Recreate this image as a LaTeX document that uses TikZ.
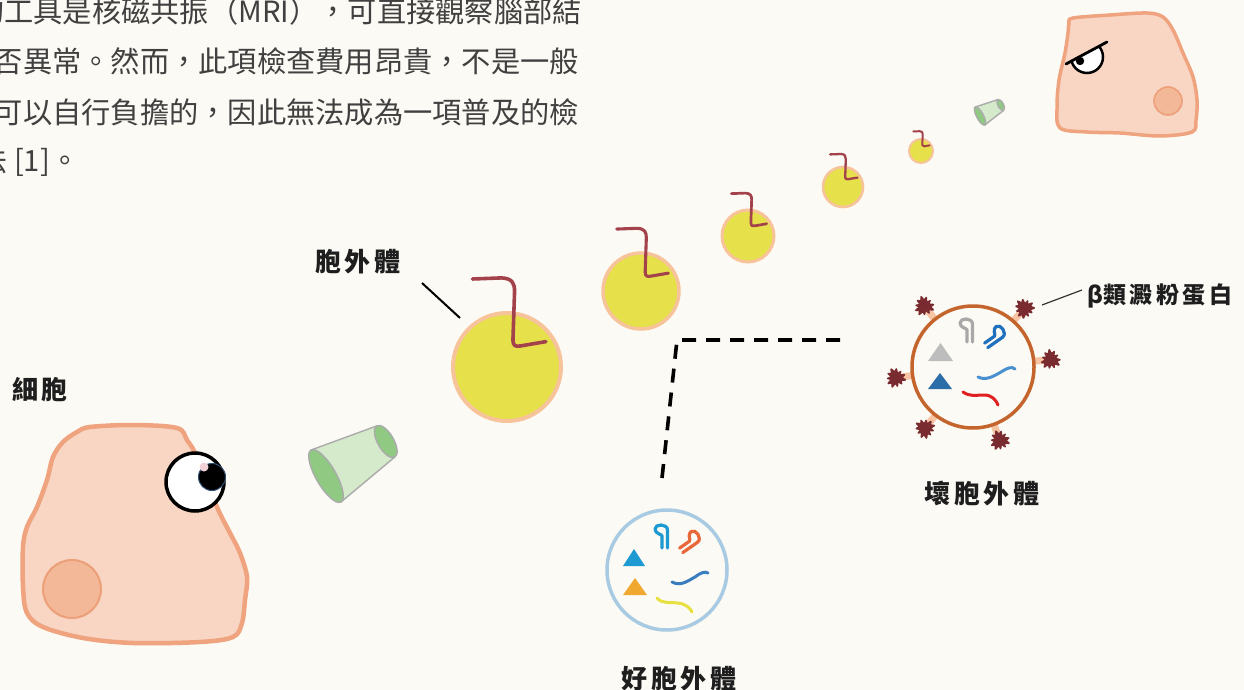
\documentclass[tikz,border=0pt]{standalone}
\usepackage{fontspec}
\newfontfamily\cjk{Noto Sans CJK TC}
\definecolor{bg}{HTML}{FCFAF4}
\definecolor{bodytxt}{HTML}{404040}
\definecolor{labeltxt}{HTML}{1E1E1E}
\definecolor{cellfill}{HTML}{F8D6C3}
\definecolor{cellline}{HTML}{EFA37E}
\definecolor{nucfill}{HTML}{F2B898}
\definecolor{nucline}{HTML}{EC9F79}
\definecolor{cupbody}{HTML}{D5E9CB}
\definecolor{cupend}{HTML}{8FC982}
\definecolor{cupline}{HTML}{ABABAB}
\definecolor{exofill}{HTML}{E6E04B}
\definecolor{exoline}{HTML}{F6C39B}
\definecolor{hookc}{HTML}{A3424B}
\definecolor{goodline}{HTML}{A8CBE3}
\definecolor{badline}{HTML}{C5652E}
\definecolor{amyc}{HTML}{7A2B2F}
\definecolor{stalk}{HTML}{F6C3A3}
\definecolor{cblue}{HTML}{1E9AD2}
\definecolor{corange}{HTML}{F1A830}
\definecolor{cred}{HTML}{E8683A}
\definecolor{wblue}{HTML}{3A7CC0}
\definecolor{wyellow}{HTML}{E8E040}
\definecolor{tgray}{HTML}{BDBDBD}
\definecolor{hgray}{HTML}{A8A8A8}
\definecolor{tdblue}{HTML}{2B6DA8}
\definecolor{hblue}{HTML}{2070C0}
\definecolor{wlblue}{HTML}{4A90D0}
\definecolor{wred}{HTML}{E02020}
\definecolor{pupilrim}{HTML}{2F4E70}
\definecolor{glint}{HTML}{F1D0D8}
\newcommand\lgap{\hspace{3.5pt}}
\tikzset{
  bodytext/.style={font=\cjk\fontsize{29.25}{34}\selectfont, text=bodytxt, inner sep=0pt},
  hand/.style={font=\cjk\bfseries\fontsize{26}{30}\selectfont, text=labeltxt, inner sep=0pt},
  cellshape/.style={fill=cellfill, draw=cellline, line width=4.5pt, line join=round},
  nucleus/.style={fill=nucfill, draw=nucline, line width=2pt},
  exosome/.style={circle, fill=exofill, draw=exoline, inner sep=0pt},
  hookline/.style={draw=hookc, line cap=round, line join=round},
  vesicle/.style={circle, fill=bg, inner sep=0pt, minimum size=120pt, line width=3.5pt},
  wiggle/.style={line width=3pt, line cap=round},
  hairpin/.pic={
    \draw[line width=3.2pt, line cap=round, line join=round]
      (1,11) -- (1,-1) .. controls (1,-3) and (-6,-3) .. (-6,-8)
      .. controls (-6,-13.5) and (6.5,-13.5) .. (6.5,-7) -- (6.5,11);
  },
  cup/.pic={
    \filldraw[fill=cupbody, draw=cupline, line width=1.4pt, line join=round]
      (0,-30) -- (69,-18) -- (69,18) -- (0,30) -- cycle;
    \filldraw[fill=cupend, draw=cupline, line width=1.4pt]
      (0,0) ellipse [x radius=10, y radius=30];
    \filldraw[fill=cupend, draw=cupline, line width=1.4pt]
      (69,0) ellipse [x radius=8, y radius=18];
  },
  amyloid/.pic={
    \fill[amyc] plot[domain=0:357, samples=120, smooth]
      (\x:{8.2+1.5*cos(11*\x)+0.9*sin(3*\x+20)}) -- cycle;
  }
}
\begin{document}
\begin{tikzpicture}[x=1pt, y=-1pt]
\fill[bg] (0,0) rectangle (1244,690);
\useasboundingbox (0,0) rectangle (1244,690);
\clip (0,0) rectangle (1244,690);

% paragraph of body text, running off the left edge
\node[bodytext, anchor=east] (line1) at (582,11) {的工具是核磁共振（MRI），可直接觀察腦部結};
\node[bodytext, anchor=east] (line2) at (579,61) {否異常。然而，此項檢查費用昂貴，不是一般};
\node[bodytext, anchor=east] (line3) at (579,112) {可以自行負擔的，因此無法成為一項普及的檢};
\node[bodytext, anchor=west] (line4) at (-22,162) {法 [1]。};

% angry cell, top right
\draw[cellshape, line width=3.5pt] plot[smooth cycle, tension=0.55] coordinates {
  (1073,18) (1110,15) (1147,13) (1163,17) (1173,30) (1183,53) (1193,77)
  (1197,100) (1196,120) (1192,132) (1160,136) (1120,133) (1087,132)
  (1060,128) (1057,107) (1059,80) (1065,53) (1068,33) (1069,23)};
\draw[nucleus, line width=1.6pt] (1168,101) circle[radius=14];
\begin{scope}
  \clip (1058,68) -- (1114,38) -- (1114,95) -- (1058,95) -- cycle;
  \filldraw[fill=white, draw=black, line width=2.5pt] (1087,57) circle[radius=16];
  \fill[black] (1080,61) circle[radius=4.2];
\end{scope}
\draw[line width=2.8pt, line cap=round] (1066,64) -- (1107,42);

% small cup near the angry cell
\pic[scale=0.34, rotate=28] at (980,116) {cup};

% cell with a round eye, bottom left
\node[hand] (lblCell) at (40,390) {細\lgap 胞};
\draw[cellshape] plot[smooth cycle, tension=0.55] coordinates {
  (90,427) (133,425) (177,428) (187,440) (197,457) (217,507) (230,533)
  (240,553) (247,577) (245,600) (242,623) (233,637) (200,642) (133,643)
  (83,638) (43,627) (27,613) (23,587) (23,547) (27,527) (37,507)
  (47,480) (53,457) (63,442) (77,432)};
\draw[nucleus] (72,589) circle[radius=29];
\filldraw[fill=white, draw=black, line width=3.5pt] (195,482) circle[radius=29];
\filldraw[fill=black, draw=pupilrim, line width=1pt] (212,477) circle[radius=13.5];
\fill[glint] (204,467) circle[radius=4.5];

% big cup released by the cell
\pic[rotate=30] at (326,476) {cup};

% chain of exosomes, shrinking towards the angry cell
\node[exosome, minimum size=108pt, line width=4pt] (e1) at (507,367) {};
\node[exosome, minimum size=76pt, line width=3.5pt] (e2) at (641,291) {};
\node[exosome, minimum size=52pt, line width=3pt] (e3) at (748,236) {};
\node[exosome, minimum size=40pt, line width=2.6pt] (e4) at (843,187) {};
\node[exosome, minimum size=24pt, line width=2pt] (e5) at (921,151) {};
\foreach \n/\r/\w in {e1/54/3.6, e2/38/3.1, e3/26/2.7, e4/20/2.3, e5/12/2} {
  \begin{scope}[shift={(\n.center)}, scale=\r]
    \draw[hookline, line width=\w pt]
      (-0.64,-1.63) -- (-0.1,-1.65) .. controls (0.1,-1.64) and (0.14,-1.55) .. (0.14,-1.4)
      -- (0.11,-0.5) .. controls (0.11,-0.4) and (0.15,-0.37) .. (0.25,-0.39) -- (0.72,-0.47);
  \end{scope}
}
\node[hand] (lblExo) at (358,262) {胞\lgap 外\lgap 體};
\coordinate (exoTip) at (422,283);
\coordinate (exoEnd) at (460,318);
\draw[line width=2pt] (exoTip) -- (exoEnd);

% dashed divider
\coordinate (dashA) at (662,478);
\coordinate (dashB) at (677,340);
\coordinate (dashC) at (842,340);
\draw[line width=3.6pt, dash pattern=on 14pt off 10pt] (dashA) -- (dashB) -- (dashC);

% good exosome
\node[vesicle, draw=goodline] (good) at (667,570) {};
\fill[cblue] (623,566) -- (634,549) -- (645,566) -- cycle;
\fill[corange] (623,595) -- (635,578) -- (647,595) -- cycle;
\pic[cblue] at (661,537) {hairpin};
\pic[cred, rotate=-55] at (688,541) {hairpin};
\draw[wiggle, wblue] (672,582) .. controls (681,587) and (689,580) .. (695,577)
  .. controls (700,573) and (705,571) .. (708,573);
\draw[wiggle, wyellow] (657,598) .. controls (662,604) and (670,602) .. (678,603)
  .. controls (686,604) and (690,608) .. (692,612);
\node[hand] (lblGood) at (679,679) {好\lgap 胞\lgap 外\lgap 體};

% bad exosome with amyloid beta on its surface
\foreach \a in {-128.7, -48.7, -5.4, 172, 128, 70} {
  \draw[stalk, line width=7pt] ([shift={(\a:57)}]973,367) -- ([shift={(\a:72)}]973,367);
}
\node[vesicle, draw=badline, minimum size=122pt] (bad) at (973,367) {};
\foreach \a/\t in {-128.7/10, -48.7/35, -5.4/0, 172/20, 128/50, 70/15} {
  \pic[rotate=\t] at ([shift={(\a:78)}]973,367) {amyloid};
}
\fill[tgray] (928,361) -- (940.5,343) -- (953,361) -- cycle;
\fill[tdblue] (928,389) -- (940,373) -- (952,389) -- cycle;
\pic[hgray] at (966,331) {hairpin};
\pic[hblue, rotate=-55] at (993,336) {hairpin};
\draw[wiggle, wlblue] (978,377) .. controls (986,381) and (994,376) .. (1001,372)
  .. controls (1007,368) and (1012,366) .. (1015,369);
\draw[wiggle, wred] (963,392) .. controls (970,397) and (976,395) .. (984,395)
  .. controls (992,395) and (996,400) .. (998,405);
\node[hand] (lblBad) at (982,494) {壞\lgap 胞\lgap 外\lgap 體};

\node[hand, font=\cjk\bfseries\fontsize{23}{28}\selectfont, anchor=west] (lblAmy) at (1087,296) {β類\lgap 澱\lgap 粉\lgap 蛋\lgap 白};
\coordinate (amyTip) at (1082,290);
\coordinate (amyEnd) at (1042,305);
\draw[line width=1.2pt, draw=black!80] (amyTip) -- (amyEnd);
\end{tikzpicture}
\end{document}
